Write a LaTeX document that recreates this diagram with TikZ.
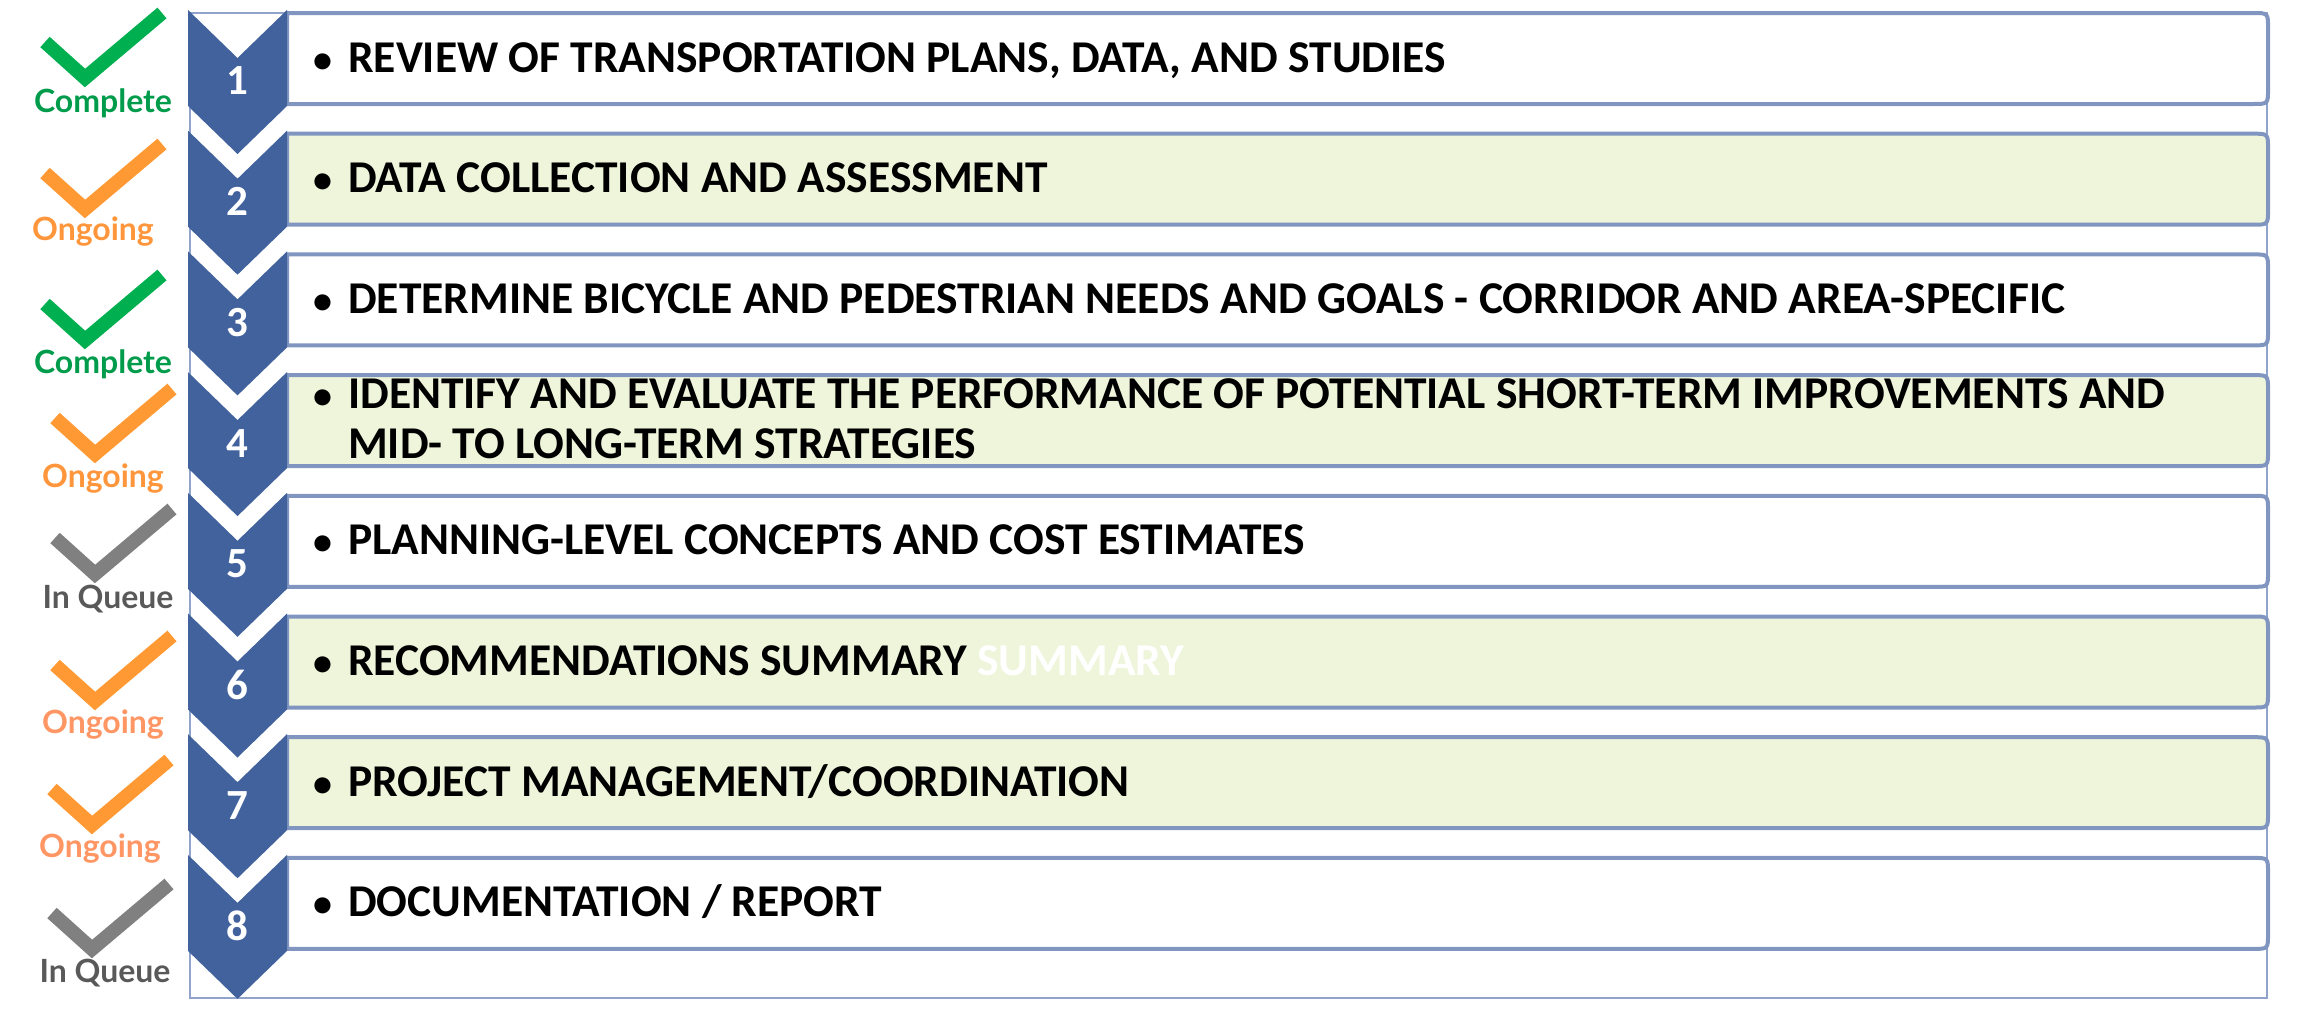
\documentclass[tikz,border=0pt]{standalone}
\usepackage{fontspec}
\setmainfont{Carlito}
\newfontfamily\labfont{Lato}
\definecolor{chev}{RGB}{66,98,158}
\definecolor{boxline}{RGB}{128,150,192}
\definecolor{frameline}{RGB}{143,163,203}
\definecolor{greenfill}{RGB}{239,245,219}
\definecolor{ckgreen}{RGB}{0,176,80}
\definecolor{txgreen}{RGB}{0,155,75}
\definecolor{ckorange}{RGB}{255,153,51}
\definecolor{txorange}{RGB}{255,150,60}
\definecolor{txsalmon}{RGB}{255,150,100}
\definecolor{ckgrey}{RGB}{128,128,128}
\definecolor{txgrey}{RGB}{89,89,89}
\tikzset{
  chevshape/.style={fill=chev},
  boxshape/.style={draw=boxline, line width=4pt, line join=round},
  numlabel/.style={text=white, font=\fontsize{43}{50}\selectfont\bfseries, inner sep=0pt},
  steptext/.style={anchor=base west, inner sep=0pt, align=left, font=\fontsize{45.5}{50}\selectfont\bfseries},
  checkline/.style={line width=14pt, line cap=butt, line join=miter},
  statuslabel/.style={anchor=base, inner sep=0pt, font=\labfont\bfseries\fontsize{32}{36}\selectfont},
}
\newcommand{\bul}{\llap{{\fontsize{38}{40}\selectfont\textbullet}\hspace{16pt}}}
\begin{document}
\begin{tikzpicture}[x=1pt,y=-1pt]
\useasboundingbox (0,0) rectangle (2301,1009);
% outer frame
\draw[frameline, line width=2pt] (190,13) rectangle (2267,998);
% boxes
\foreach \i/\fc in {0/white,1/greenfill,2/white,3/greenfill,4/white,5/greenfill,6/greenfill,7/white}{
  \pgfmathsetmacro\bt{13+120.7*\i}
  \pgfmathsetmacro\bb{104+120.7*\i}
  \path[boxshape, fill=\fc] (287,\bt) -- (2253,\bt) .. controls (2268,\bt) .. (2268,\bt+15)
     -- (2268,\bb-15) .. controls (2268,\bb) .. (2253,\bb) -- (287,\bb) -- cycle;
}
% chevrons and numbers
\foreach \i in {0,...,7}{
  \pgfmathsetmacro\ct{10+120.7*\i}
  \fill[chevshape] (188,\ct) -- (237.5,\ct+48) -- (287,\ct) -- (287,\ct+96)
     -- (237.5,\ct+144) -- (188,\ct+96) -- cycle;
  \pgfmathtruncatemacro\n{\i+1}
  \node[numlabel] (num\n) at (237.5,\ct+71) {\n};
}
% step texts
\node[steptext] (t1) at (348,72) {\bul REVIEW OF TRANSPORTATION PLANS, DATA, AND STUDIES};
\node[steptext] (t2) at (348,192.7) {\bul DATA COLLECTION AND ASSESSMENT};
\node[steptext] (t3) at (348,313.4) {\bul DETERMINE BICYCLE AND PEDESTRIAN NEEDS AND GOALS - CORRIDOR AND AREA-SPECIFIC};
\node[steptext] (t4) at (348,458) {\bul IDENTIFY AND EVALUATE THE PERFORMANCE OF POTENTIAL SHORT-TERM IMPROVEMENTS AND\\MID- TO LONG-TERM STRATEGIES};
\node[steptext] (t5) at (348,554.8) {\bul PLANNING-LEVEL CONCEPTS AND COST ESTIMATES};
\node[steptext] (t6) at (348,675.5) {\bul RECOMMENDATIONS SUMMARY {\color{white}SUMMARY}};
\node[steptext] (t7) at (348,796.2) {\bul PROJECT MANAGEMENT/COORDINATION};
\node[steptext] (t8) at (348,916.9) {\bul DOCUMENTATION / REPORT};
% check marks
\foreach \vx/\vy/\cc in {85/87/ckgreen, 85/218/ckorange, 85/349/ckgreen, 95/463/ckorange,
                         95/583/ckgrey, 95/710/ckorange, 92/834/ckorange, 92/958/ckgrey}{
  \draw[checkline, draw=\cc] (\vx-40,\vy-45) -- (\vx,\vy-9) -- (\vx+77,\vy-74);
}
% status labels
\node[statuslabel, text=txgreen] (s1) at (103,112) {Complete};
\node[statuslabel, text=txorange] (s2) at (93,240) {Ongoing};
\node[statuslabel, text=txgreen] (s3) at (103,373) {Complete};
\node[statuslabel, text=txorange] (s4) at (103,487) {Ongoing};
\node[statuslabel, text=txgrey] (s5) at (108,608) {In Queue};
\node[statuslabel, text=txsalmon] (s6) at (103,733) {Ongoing};
\node[statuslabel, text=txsalmon] (s7) at (100,857) {Ongoing};
\node[statuslabel, text=txgrey] (s8) at (105,982) {In Queue};
\end{tikzpicture}
\end{document}
